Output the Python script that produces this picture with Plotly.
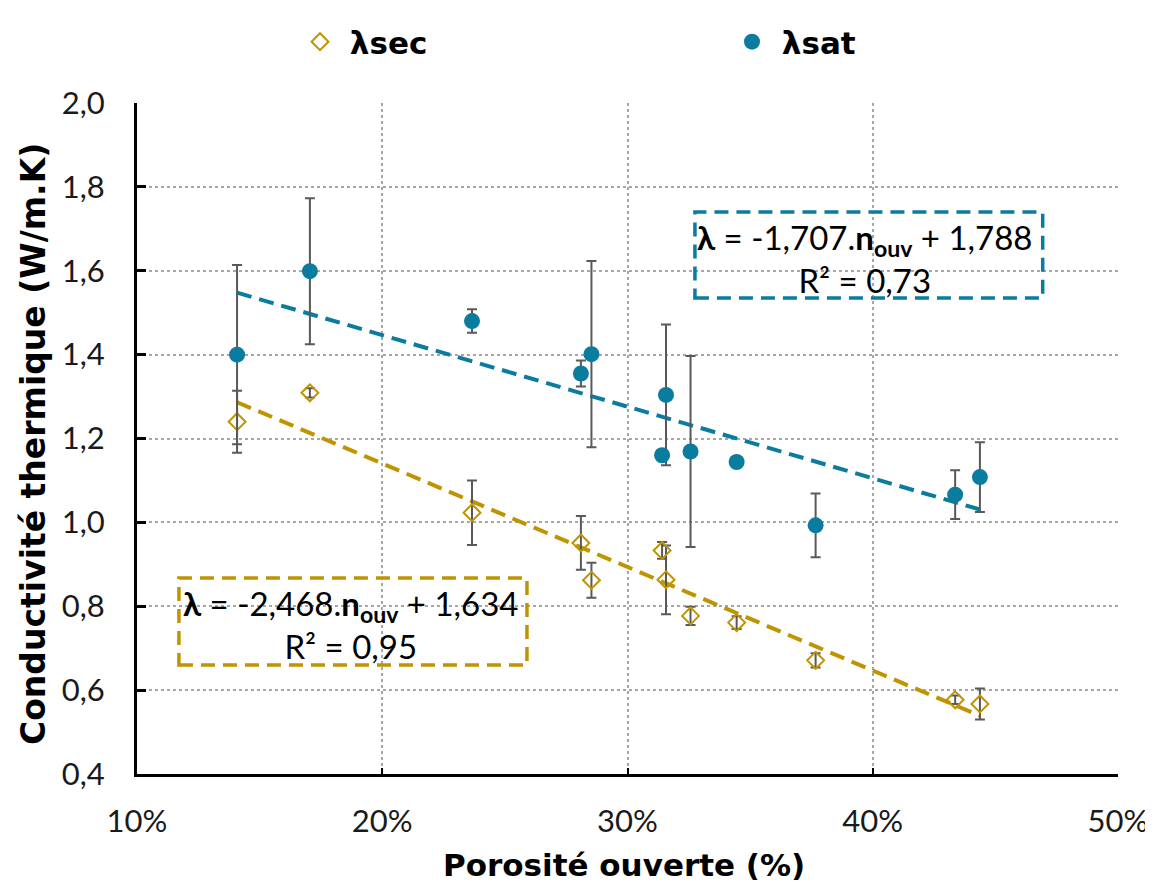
import plotly.graph_objects as go

# ---- data ----
porosite = [0.1408, 0.1705, 0.2366, 0.2810, 0.2853, 0.3141, 0.3157, 0.3257, 0.3445, 0.3767, 0.4336, 0.4437]
lambda_sat = [1.400, 1.599, 1.480, 1.355, 1.401, 1.160, 1.304, 1.169, 1.144, 0.993, 1.066, 1.108]
lambda_sat_err = [0.214, 0.174, 0.028, 0.031, 0.222, 0.0, 0.168, 0.228, 0.0, 0.076, 0.058, 0.083]
lambda_sec = [1.240, 1.309, 1.023, 0.951, 0.862, 0.933, 0.863, 0.777, 0.761, 0.671, 0.577, 0.567]
lambda_sec_err = [0.074, 0.011, 0.077, 0.064, 0.042, 0.020, 0.082, 0.022, 0.015, 0.017, 0.010, 0.037]

sat_slope, sat_intercept, sat_r2 = -1.707, 1.788, "0,73"
sec_slope, sec_intercept, sec_r2 = -2.468, 1.634, "0,95"

x_ticks = [0.1, 0.2, 0.3, 0.4, 0.5]
y_ticks = [0.4, 0.6, 0.8, 1.0, 1.2, 1.4, 1.6, 1.8, 2.0]

x_title = "Porosité ouverte (%)"
y_title = "Conductivité thermique (W/m.K)"

C_SAT = "#0A7CA0"
C_SEC = "#C09400"
C_ERR = "#595959"
FONT = "Lato"
FONT_B = "DejaVu Sans"

x_fit = [min(porosite), max(porosite)]
sat_fit = [sat_slope * v + sat_intercept for v in x_fit]
sec_fit = [sec_slope * v + sec_intercept for v in x_fit]

fig = go.Figure()

fig.add_trace(go.Scatter(x=x_fit, y=sec_fit, mode="lines", showlegend=False,
                         line=dict(color=C_SEC, width=4, dash="15px,8px"), hoverinfo="skip"))
fig.add_trace(go.Scatter(x=x_fit, y=sat_fit, mode="lines", showlegend=False,
                         line=dict(color=C_SAT, width=4, dash="15px,8px"), hoverinfo="skip"))

fig.add_trace(go.Scatter(
    x=porosite, y=lambda_sec, mode="markers", name="\u00a0<b>λsec</b>", legend="legend",
    marker=dict(symbol="diamond-open", size=13, color=C_SEC, line=dict(width=2, color=C_SEC)),
    error_y=dict(type="data", array=lambda_sec_err, visible=True, color=C_ERR, thickness=2, width=5),
))
fig.add_trace(go.Scatter(
    x=porosite, y=lambda_sat, mode="markers", name="\u00a0<b>λsat</b>", legend="legend2",
    marker=dict(symbol="circle", size=16, color=C_SAT),
    error_y=dict(type="data", array=lambda_sat_err, visible=True, color=C_ERR, thickness=2, width=5),
))

# equation boxes
fig.add_shape(type="rect", xref="x", yref="y", x0=0.3275, x1=0.4693, y0=1.535, y1=1.740,
              line=dict(color=C_SAT, width=3.5, dash="14px,8px"), fillcolor="rgba(255,255,255,0)")
fig.add_shape(type="rect", xref="x", yref="y", x0=0.1171, x1=0.2590, y0=0.660, y1=0.8674,
              line=dict(color=C_SEC, width=3.5, dash="14px,8px"), fillcolor="rgba(255,255,255,0)")

def eq_text(slope, intercept, r2):
    s = f"{slope:.3f}".replace(".", ",")
    i = f"{intercept:.3f}".replace(".", ",")
    return f"<b>λ</b> = {s}.<b>n<sub>ouv</sub></b> + {i}<br>R² = {r2}"

eq_font = dict(family=FONT, size=33, color="#000000")
fig.add_annotation(x=0.397, y=1.6292, xref="x", yref="y", text=eq_text(sat_slope, sat_intercept, sat_r2),
                   showarrow=False, align="center", font=eq_font)
fig.add_annotation(x=0.1874, y=0.7554, xref="x", yref="y", text=eq_text(sec_slope, sec_intercept, sec_r2),
                   showarrow=False, align="center", font=eq_font)

# axis titles
fig.add_annotation(x=0.4964, y=-0.1356, xref="paper", yref="paper", text=f"<b>{x_title}</b>",
                   showarrow=False, xanchor="center", yanchor="middle",
                   font=dict(family=FONT_B, size=31, color="#000000"))
fig.add_annotation(x=-0.106, y=0.4918, xref="paper", yref="paper", text=f"<b>{y_title}</b>",
                   showarrow=False, xanchor="center", yanchor="middle", textangle=-90,
                   font=dict(family=FONT_B, size=33, color="#000000"))

leg_common = dict(orientation="h", xref="container", yref="container", xanchor="left", yanchor="middle",
                  font=dict(family=FONT_B, size=31, color="#000000"), bgcolor="rgba(0,0,0,0)")

fig.update_layout(
    width=1153, height=886,
    margin=dict(l=129, r=43, t=95, b=120, autoexpand=False),
    paper_bgcolor="white", plot_bgcolor="white",
    separators=", ",
    font=dict(family=FONT, color="#000000"),
    legend=dict(x=292 / 1153, y=0.9616, **leg_common),
    legend2=dict(x=724 / 1153, y=0.9616, **leg_common),
    xaxis=dict(range=[0.1, 0.5], tickvals=x_ticks, tickformat=".0%", automargin=False,
               showgrid=True, gridcolor="#A6A6A6", griddash="dot", gridwidth=2,
               showline=True, linecolor="#000000", linewidth=3,
               ticks="inside", ticklen=6, tickwidth=2, tickcolor="#000000",
               ticklabelstandoff=18,
               tickfont=dict(family=FONT, size=31, color="#1a1a1a"),
               zeroline=False),
    yaxis=dict(range=[0.4, 2.0], tickvals=y_ticks, tickformat=".1f", automargin=False,
               showgrid=True, gridcolor="#A6A6A6", griddash="dot", gridwidth=2,
               showline=True, linecolor="#000000", linewidth=3,
               ticks="inside", ticklen=9, tickwidth=3, tickcolor="#000000",
               ticklabelstandoff=23,
               tickfont=dict(family=FONT, size=31, color="#1a1a1a"),
               zeroline=False),
)

fig.write_html("out.html")
